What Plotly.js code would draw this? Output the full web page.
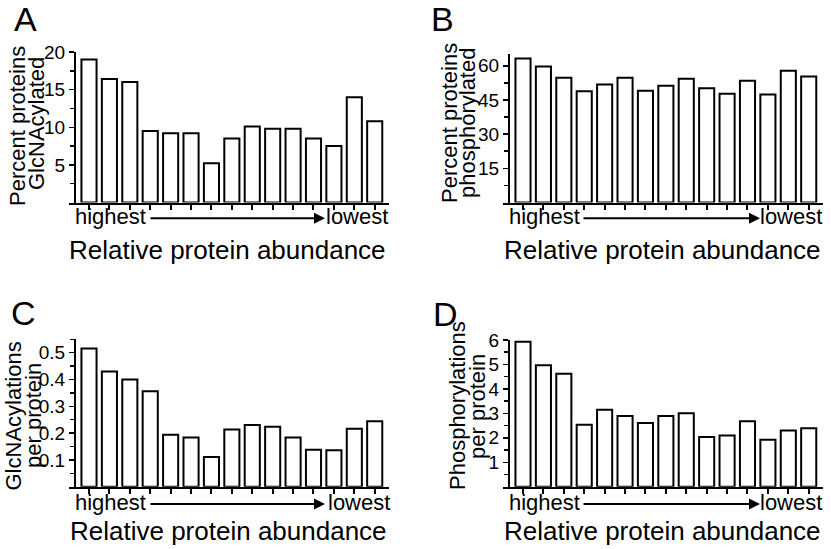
<!DOCTYPE html>
<html><head><meta charset="utf-8">
<script src="https://cdn.plot.ly/plotly-3.0.1.min.js"></script>
<style>html,body{margin:0;padding:0;background:#fff;} #chart{width:831px;height:549px;}</style>
</head><body><div id="chart"></div>
<script>
// ---- data ----
const bins = [1,2,3,4,5,6,7,8,9,10,11,12,13,14,15];
const pctGlcNAcylated = [19.0,16.4,16.0,9.5,9.2,9.2,5.2,8.5,10.1,9.8,9.8,8.5,7.5,14.0,10.8];
const pctPhosphorylated = [63.2,59.7,54.8,48.8,51.8,54.7,49.0,51.2,54.3,50.1,47.7,53.4,47.4,57.8,55.3];
const glcNAcPerProtein = [0.516,0.430,0.400,0.356,0.194,0.184,0.111,0.213,0.230,0.224,0.184,0.138,0.136,0.216,0.244];
const phosPerProtein = [5.93,4.97,4.62,2.53,3.15,2.89,2.61,2.89,3.00,2.03,2.09,2.68,1.92,2.30,2.39];
const ticksA = [5,10,15,20],  minorA = [2.5,7.5,12.5,17.5];
const ticksB = [15,30,45,60], minorB = [7.5,22.5,37.5,52.5];
const ticksC = [0.1,0.2,0.3,0.4,0.5], minorC = [0.05,0.15,0.25,0.35,0.45,0.55];
const ticksD = [1,2,3,4,5,6], minorD = [0.5,1.5,2.5,3.5,4.5,5.5];
const panelLetters = ['A','B','C','D'];
const yTitles = [['Percent proteins','GlcNAcylated'],['Percent proteins','phosphorylated'],['GlcNAcylations','per protein'],['Phosphorylations','per protein']];
const xTitle = 'Relative protein abundance';
const lowLabel = 'highest', highLabel = 'lowest';

// ---- layout helpers ----
const W = 831, H = 549;
const FONT = 'Liberation Sans, Arial, Helvetica, sans-serif';
const fx = p => p / W;
const fy = p => 1 - p / H;

function barTrace(vals, xa, ya) {
  return {type:'bar', x:bins, y:vals, xaxis:xa, yaxis:ya, width:0.74,
    marker:{color:'#ffffff', line:{color:'#000000', width:2}}, hoverinfo:'skip'};
}
function xAxis(d0, d1, yref) {
  return {domain:[fx(d0), fx(d1)], range:[0.02, 15.7], anchor:yref,
    showline:true, linecolor:'#000', linewidth:2, ticks:'outside', tickmode:'array', tickvals:bins,
    ticklen:5, tickwidth:2, tickcolor:'#000', showticklabels:false, showgrid:false, zeroline:false, fixedrange:true};
}
function yAxis(top, bot, range, tv, mv, pos, fmt) {
  return {domain:[fy(bot), fy(top)], range:range, anchor:'free', position:fx(pos),
    showline:true, linecolor:'#000', linewidth:2, ticks:'outside', tickmode:'array', tickvals:tv,
    ticklen:5, tickwidth:1.5, tickcolor:'#000',
    minor:{tickmode:'array', tickvals:mv, ticks:'outside', ticklen:4, tickwidth:1.5, tickcolor:'#000', showgrid:false},
    tickfont:{family:FONT, size:19, color:'#000'}, tickformat:fmt, showgrid:false, zeroline:false, fixedrange:true};
}

const panels = [
  {xl:69,  xr:389, yax:75,  top:52,    bot:202.5, range:[0,20],   tv:ticksA, mv:minorA, fmt:'d',
   letter:[25,19], t1:[17,126], t2:[37,124], hi:[72.7,217], lo:[390,217], arrow:[149,325,218.3], xt:[227.5,250]},
  {xl:503, xr:823, yax:509, top:54.4,  bot:202.5, range:[0,65],   tv:ticksB, mv:minorB, fmt:'d',
   letter:[442,19], t1:[449,123], t2:[467,123], hi:[506.7,217], lo:[824,217], arrow:[582,760,218.3], xt:[662.5,250]},
  {xl:69,  xr:389, yax:75,  top:339.3, bot:486.7, range:[0,0.55], tv:ticksC, mv:minorC, fmt:'.1f',
   letter:[23,313], t1:[12.5,416], t2:[33,416], hi:[72.7,502], lo:[392,502], arrow:[149,325,504], xt:[228.5,531]},
  {xl:503, xr:823, yax:509, top:340,   bot:486.7, range:[0,6],    tv:ticksD, mv:minorD, fmt:'d',
   letter:[445,314], t1:[457,406], t2:[477,407], hi:[506.7,502], lo:[824,502], arrow:[582,760,504], xt:[662.5,531]}
];
const series = [pctGlcNAcylated, pctPhosphorylated, glcNAcPerProtein, phosPerProtein];

const data = [];
const layout = {width:W, height:H, margin:{l:0,r:0,t:0,b:0}, showlegend:false,
  paper_bgcolor:'#fff', plot_bgcolor:'rgba(0,0,0,0)', font:{family:FONT, color:'#000'},
  bargap:0, annotations:[]};

panels.forEach((p, i) => {
  const n = i + 1;
  const xa = 'x' + (n === 1 ? '' : n), ya = 'y' + (n === 1 ? '' : n);
  data.push(barTrace(series[i], xa, ya));
  layout['xaxis' + (n === 1 ? '' : n)] = xAxis(p.xl, p.xr, ya);
  layout['yaxis' + (n === 1 ? '' : n)] = yAxis(p.top, p.bot, p.range, p.tv, p.mv, p.yax, p.fmt);
  const A = layout.annotations;
  A.push({xref:'paper', yref:'paper', x:fx(p.letter[0]), y:fy(p.letter[1]), xanchor:'center', yanchor:'middle',
    text:panelLetters[i], showarrow:false, font:{size:34, family:FONT, color:'#000'}});
  A.push({xref:'paper', yref:'paper', x:fx(p.t1[0]), y:fy(p.t1[1]), xanchor:'center', yanchor:'middle', textangle:-90,
    text:yTitles[i][0], showarrow:false, font:{size:22, family:FONT, color:'#000'}});
  A.push({xref:'paper', yref:'paper', x:fx(p.t2[0]), y:fy(p.t2[1]), xanchor:'center', yanchor:'middle', textangle:-90,
    text:yTitles[i][1], showarrow:false, font:{size:22, family:FONT, color:'#000'}});
  A.push({xref:'paper', yref:'paper', x:fx(p.hi[0]), y:fy(p.hi[1]), xanchor:'left', yanchor:'middle',
    text:lowLabel, showarrow:false, font:{size:22, family:FONT, color:'#000'}});
  A.push({xref:'paper', yref:'paper', x:fx(p.lo[0]), y:fy(p.lo[1]), xanchor:'right', yanchor:'middle',
    text:highLabel, showarrow:false, font:{size:22, family:FONT, color:'#000'}});
  A.push({xref:'paper', yref:'paper', x:fx(p.arrow[1]), y:fy(p.arrow[2]), axref:'pixel', ayref:'pixel',
    ax:p.arrow[0] - p.arrow[1], ay:0, text:'', showarrow:true, arrowhead:2, arrowsize:1.1, arrowwidth:2, arrowcolor:'#000'});
  A.push({xref:'paper', yref:'paper', x:fx(p.xt[0]), y:fy(p.xt[1]), xanchor:'center', yanchor:'middle',
    text:xTitle, showarrow:false, font:{size:26, family:FONT, color:'#000'}});
});

Plotly.newPlot('chart', data, layout, {displayModeBar:false, staticPlot:true});
</script>
</body></html>
